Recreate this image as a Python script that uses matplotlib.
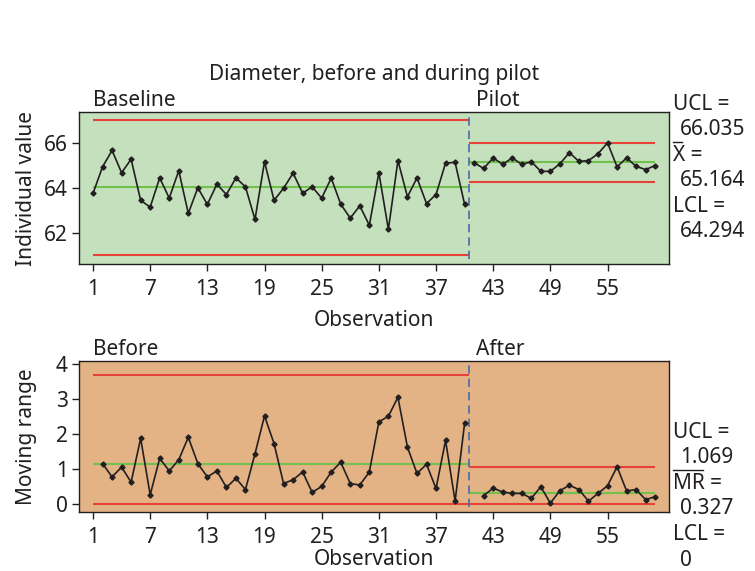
import matplotlib
matplotlib.use("Agg")
import matplotlib.pyplot as plt
from matplotlib.lines import Line2D

# individual values, baseline (obs 1-40) and pilot (obs 41-60)
base_obs = list(range(1, 41))
base_vals = [63.78, 64.96, 65.69, 64.70, 65.30, 63.47, 63.17, 64.47, 63.57, 64.79,
             62.89, 64.03, 63.29, 64.19, 63.73, 64.47, 64.07, 62.62, 65.19, 63.47,
             64.01, 64.68, 63.79, 64.07, 63.57, 64.46, 63.30, 62.68, 63.23, 62.36,
             64.70, 62.18, 65.24, 63.63, 64.47, 63.33, 63.73, 65.13, 65.16, 63.29]
pilot_obs = list(range(41, 61))
pilot_vals = [65.14, 64.89, 65.36, 65.07, 65.36, 65.07, 65.19, 64.76, 64.76, 65.10,
              65.59, 65.20, 65.24, 65.54, 66.03, 64.96, 65.36, 64.98, 64.84, 65.02]

# moving ranges, before (obs 2-40) and after (obs 42-60)
mr_before_obs = list(range(2, 41))
mr_before = [1.16, 0.78, 1.06, 0.63, 1.88, 0.27, 1.31, 0.95, 1.27, 1.91,
             1.16, 0.78, 0.95, 0.48, 0.74, 0.42, 1.44, 2.52, 1.73, 0.59,
             0.70, 0.92, 0.34, 0.51, 0.92, 1.20, 0.59, 0.55, 0.92, 2.35,
             2.51, 3.05, 1.63, 0.88, 1.14, 0.45, 1.82, 0.09, 2.31]
mr_after_obs = list(range(42, 61))
mr_after = [0.25, 0.46, 0.35, 0.31, 0.31, 0.17, 0.50, 0.03, 0.39, 0.54,
            0.42, 0.09, 0.31, 0.53, 1.07, 0.38, 0.42, 0.13, 0.22]

# control limits (UCL, centre, LCL)
base_limits = [67.05, 64.05, 61.03]
pilot_limits = [66.035, 65.164, 64.294]
mr_before_limits = [3.70, 1.15, 0.0]
mr_after_limits = [1.069, 0.327, 0.0]

x_ticks = [1, 7, 13, 19, 25, 31, 37, 43, 49, 55]
split = 40.5
x_end = 60

TXT = "#231f20"
RED = "#e8413a"
GREEN = "#72c14c"
DASH = "#4a6aa8"

plt.rcParams["font.family"] = ["Noto Sans", "DejaVu Sans"]
plt.rcParams["font.size"] = 15
plt.rcParams["text.color"] = TXT
plt.rcParams["axes.labelcolor"] = TXT
plt.rcParams["xtick.color"] = TXT
plt.rcParams["ytick.color"] = TXT

fig = plt.figure(figsize=(7.55, 5.71), dpi=100)
W, H = 755, 571


def px_axes(x0, y0, x1, y1):
    return fig.add_axes([x0 / W, 1 - y1 / H, (x1 - x0) / W, (y1 - y0) / H])


def draw_panel(ax, segs, bg, ylim, yticks, ylabel, xlabelpad):
    ax.set_facecolor(bg)
    for obs, vals, lims, x0, x1 in segs:
        ax.hlines(lims[0], x0, x1, color=RED, lw=1.5, zorder=2)
        ax.hlines(lims[2], x0, x1, color=RED, lw=1.5, zorder=2)
        ax.hlines(lims[1], x0, x1, color=GREEN, lw=1.5, zorder=2)
        ax.plot(obs, vals, color=TXT, lw=1.2, marker="D", ms=2.6, zorder=3)
    ax.axvline(split, ymin=0.03, ymax=1, color=DASH, lw=1.2, ls=(0, (5, 3)), zorder=2)
    ax.set_xlim(-0.47, 61.45)
    ax.set_ylim(*ylim)
    ax.set_xticks(x_ticks)
    ax.set_yticks(yticks)
    ax.tick_params(direction="out", length=5, width=1, labelsize=15,
                   top=False, right=False)
    ax.tick_params(axis="x", pad=6)
    ax.tick_params(axis="y", pad=3)
    for s in ax.spines.values():
        s.set_linewidth(1)
        s.set_color(TXT)
    ax.set_xlabel("Observation", fontsize=15, labelpad=xlabelpad)
    ax.set_ylabel(ylabel, fontsize=15)
    ax.yaxis.set_label_coords((37 - 79) / 590, 0.5)


ax1 = px_axes(79, 112, 669, 264)
draw_panel(ax1,
           [(base_obs, base_vals, base_limits, 1, split),
            (pilot_obs, pilot_vals, pilot_limits, split, x_end)],
           "#c4e0bc", (60.64, 67.4), [62, 64, 66], "Individual value", 7)
ax1.set_title("Diameter, before and during pilot", fontsize=15, pad=23)
ax1.text(1, 1.005, "Baseline", transform=ax1.get_xaxis_transform(), fontsize=15,
         va="bottom", ha="left")
ax1.text(41.2, 1.005, "Pilot", transform=ax1.get_xaxis_transform(), fontsize=15,
         va="bottom", ha="left")

ax2 = px_axes(79, 361, 669, 512)
draw_panel(ax2,
           [(mr_before_obs, mr_before, mr_before_limits, 1, split),
            (mr_after_obs, mr_after, mr_after_limits, split, x_end)],
           "#e3b386", (-0.22, 4.085), [0, 1, 2, 3, 4], "Moving range", 0.5)
ax2.text(1, 1.005, "Before", transform=ax2.get_xaxis_transform(), fontsize=15,
         va="bottom", ha="left")
ax2.text(41.2, 1.005, "After", transform=ax2.get_xaxis_transform(), fontsize=15,
         va="bottom", ha="left")


def side_labels(lines, y_start, bar_width):
    y = y_start
    for i, s in enumerate(lines):
        x = 673 if i % 2 == 0 else 680
        fig.text(x / W, 1 - y / H, s, fontsize=15, va="center", ha="left")
        if i == 2:
            yb = y - 13
            fig.add_artist(Line2D([673 / W, (673 + bar_width) / W],
                                  [1 - yb / H, 1 - yb / H],
                                  color=TXT, lw=1))
        y += 25.6


side_labels(["UCL =", f"{pilot_limits[0]:.3f}", "X =", f"{pilot_limits[1]:.3f}",
             "LCL =", f"{pilot_limits[2]:.3f}"], 104, 9)
side_labels(["UCL =", f"{mr_after_limits[0]:.3f}", "MR =", f"{mr_after_limits[1]:.3f}",
             "LCL =", "0"], 432, 30)

fig.savefig("out.png", dpi=100)
